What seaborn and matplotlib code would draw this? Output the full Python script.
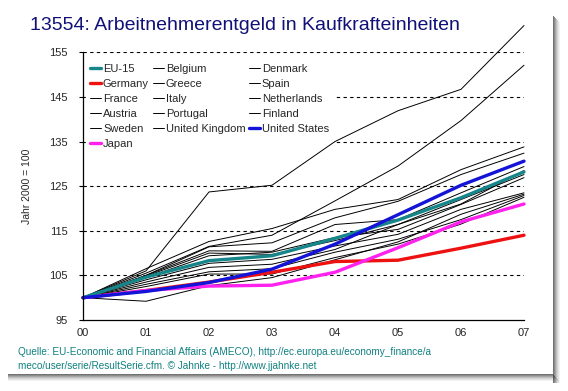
import numpy as np
import pandas as pd
import seaborn as sns
import matplotlib
matplotlib.use('Agg')
import matplotlib.pyplot as plt
from matplotlib.patches import Rectangle

# data (Jahr 2000 = 100)
jahre = ["00", "01", "02", "03", "04", "05", "06", "07"]
eu15 = [100, 104.6, 108.3, 109.4, 113.3, 117.4, 122.4, 128.2]
germany = [100, 101.6, 103.5, 105.7, 108.1, 108.4, 111.1, 114.0]
usa = [100, 101.4, 103.4, 106.4, 112.0, 118.6, 125.2, 130.6]
japan = [100, 101.6, 102.6, 102.8, 105.7, 111.2, 117.0, 121.0]

belgium = [100, 104.8, 110.0, 109.7, 112.8, 116.4, 122.0, 127.6]
denmark = [100, 105.0, 111.4, 112.3, 117.9, 121.6, 127.6, 132.4]
greece = [100, 106.0, 123.7, 125.2, 135.0, 141.9, 146.7, 161.0]
spain = [100, 103.0, 105.8, 106.5, 110.2, 113.1, 117.5, 122.9]
france = [100, 104.5, 109.4, 110.2, 113.5, 115.3, 120.9, 126.9]
italy = [100, 102.5, 105.3, 105.3, 109.0, 112.0, 116.5, 122.5]
netherlands = [100, 105.5, 111.5, 114.0, 121.7, 129.5, 139.7, 152.1]
austria = [100, 104.0, 107.7, 108.6, 111.6, 114.2, 119.8, 123.5]
portugal = [100, 99.2, 102.7, 104.5, 108.5, 112.5, 118.7, 123.2]
finland = [100, 105.0, 110.5, 110.4, 116.4, 117.5, 123.5, 129.4]
sweden = [100, 103.5, 106.8, 107.5, 110.8, 116.4, 121.0, 128.5]
uk = [100, 106.5, 112.6, 115.5, 119.8, 122.0, 128.7, 133.8]

black_countries = {
    "Belgium": belgium, "Denmark": denmark, "Greece": greece, "Spain": spain,
    "France": france, "Italy": italy, "Netherlands": netherlands,
    "Austria": austria, "Portugal": portugal, "Finland": finland,
    "Sweden": sweden, "United Kingdom": uk,
}
colored = {
    "Germany": (germany, "#ee1111"),
    "Japan": (japan, "#ff22ee"),
    "EU-15": (eu15, "#17868a"),
    "United States": (usa, "#1414d8"),
}

# legend order as in the original (row by row, 3 columns)
legend_rows = ["EU-15", "Belgium", "Denmark",
               "Germany", "Greece", "Spain",
               "France", "Italy", "Netherlands",
               "Austria", "Portugal", "Finland",
               "Sweden", "United Kingdom", "United States",
               "Japan"]

rows = []
for name, vals in black_countries.items():
    for i, v in enumerate(vals):
        rows.append((name, i, v))
for name, (vals, c) in colored.items():
    for i, v in enumerate(vals):
        rows.append((name, i, v))
df = pd.DataFrame(rows, columns=["land", "jahr", "wert"])

sns.set_style("white")
plt.rcParams['font.family'] = ['Liberation Sans', 'DejaVu Sans']

fig = plt.figure(figsize=(5.68, 3.91), dpi=100)

# panel with drop shadow
for k, a in enumerate([0.55, 0.45, 0.35, 0.25, 0.17, 0.1, 0.05]):
    fig.patches.append(Rectangle((553 / 568 + k / 568, 8 / 391), 1.2 / 568, 375 / 391 - 8 / 391 - k / 391,
                                 transform=fig.transFigure, color="black", alpha=a, lw=0))
    fig.patches.append(Rectangle((8 / 568, (391 - 374 - k) / 391 - 1.2 / 391), (553 - 8 + k) / 568, 1.2 / 391,
                                 transform=fig.transFigure, color="black", alpha=a, lw=0))

ax = fig.add_axes([83 / 568, 1 - 320 / 391, (524 - 83) / 568, (320 - 52.3) / 391])

handles = {}
for name in black_countries:
    sns.lineplot(data=df[df.land == name], x="jahr", y="wert", color="black",
                 linewidth=0.7, ax=ax, clip_on=False, legend=False)
    handles[name] = ax.lines[-1]
for name, (vals, c) in colored.items():
    sns.lineplot(data=df[df.land == name], x="jahr", y="wert", color=c,
                 linewidth=2.4, ax=ax, clip_on=False, legend=False)
    handles[name] = ax.lines[-1]

ax.set_xlim(0, 7)
ax.set_ylim(95, 155)
ax.set_xticks(range(len(jahre)))
ax.set_xticklabels(jahre)
ax.set_yticks(np.arange(95, 156, 10))
ax.tick_params(axis="x", length=0, labelsize=8, pad=6)
ax.tick_params(axis="y", length=3, width=0.8, labelsize=8, pad=8, left=True, color="black")
for yv in range(105, 156, 10):
    ax.axhline(yv, color="black", lw=0.8, ls=(0, (3, 3)), zorder=0)
sns.despine(ax=ax, top=True, right=True)
ax.spines["left"].set_linewidth(0.9)
ax.spines["bottom"].set_linewidth(0.9)
ax.spines["left"].set_color("black")
ax.spines["bottom"].set_color("black")
ax.set_xlabel("")
ax.set_ylabel("Jahr 2000 = 100", fontsize=7.5, labelpad=12)

# legend: matplotlib fills columns, so reorder
ncol = 3
cols = [legend_rows[i::ncol] for i in range(ncol)]
order = [n for col in cols for n in col]
leg = ax.legend([handles[n] for n in order], order, ncol=ncol, loc="upper left",
                bbox_to_anchor=(0.0, 0.985), fontsize=8, frameon=True, fancybox=False,
                edgecolor="white", facecolor="white", framealpha=1,
                handlelength=1.0, handletextpad=0.15, columnspacing=0.35,
                labelspacing=0.45, borderpad=0.35, borderaxespad=0.3)
leg.set_zorder(1.5)

fig.text(30 / 568, 1 - 26 / 391, "13554: Arbeitnehmerentgeld in Kaufkrafteinheiten",
         fontsize=14, color="#101078", va="center", ha="left")
fig.text(18 / 568, 1 - 352 / 391,
         "Quelle: EU-Economic and Financial Affairs (AMECO), http://ec.europa.eu/economy_finance/a",
         fontsize=7.2, color="#108080", va="center", ha="left")
fig.text(18 / 568, 1 - 366 / 391,
         "meco/user/serie/ResultSerie.cfm. \u00a9 Jahnke - http://www.jjahnke.net",
         fontsize=7.2, color="#108080", va="center", ha="left")

fig.savefig("out.png", dpi=100)
